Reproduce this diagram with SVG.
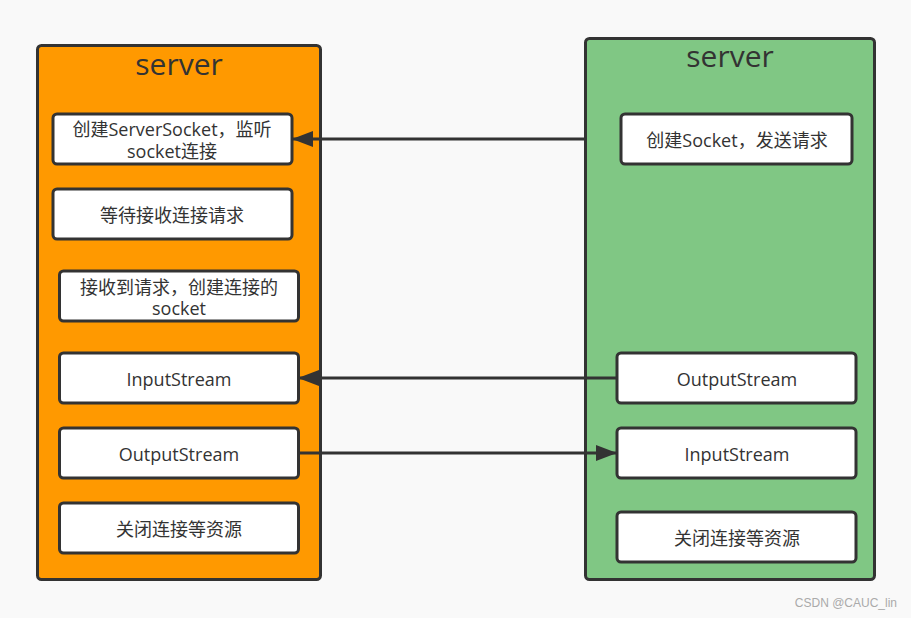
<svg xmlns="http://www.w3.org/2000/svg" width="911" height="618" viewBox="0 0 911 618">
<defs>
<style>
.t{font-family:"Open Sans","Noto Sans CJK SC",sans-serif;font-size:18px;fill:#333;text-anchor:middle}
.h{font-family:"Open Sans","Noto Sans CJK SC",sans-serif;font-size:30px;fill:#333;text-anchor:middle}
.box{fill:#fff;stroke:#333;stroke-width:3}
.c{fill:none;stroke:#333;stroke-width:3}
</style>
<marker id="ah" viewBox="0 0 21 16" refX="21" refY="8" markerWidth="21" markerHeight="16" markerUnits="userSpaceOnUse" orient="auto">
<path d="M0,0 L21,8 L0,16 Z" fill="#333"/>
</marker>
</defs>
<rect width="911" height="618" fill="#f9f9f9"/>
<g id="client-left">
<rect x="37.5" y="45.5" width="283" height="534" rx="4" fill="#ff9900" stroke="#333" stroke-width="3"/>
<text class="h" x="179" y="75">server</text>
</g>
<g id="client-right">
<rect x="585.5" y="38.5" width="289" height="541" rx="4" fill="#80c784" stroke="#333" stroke-width="3"/>
<text class="h" x="730" y="67">server</text>
</g>
<g id="l1"><rect class="box" x="53" y="114" width="239" height="50" rx="4"/><text class="t" x="172" y="136">创建ServerSocket，监听<tspan x="172" dy="22">socket连接</tspan></text></g>
<g id="l2"><rect class="box" x="53" y="189" width="239" height="50" rx="4"/><text class="t" x="172" y="222">等待接收连接请求</text></g>
<g id="l3"><rect class="box" x="59.5" y="271" width="239" height="50" rx="4"/><text class="t" x="179" y="294">接收到请求，创建连接的<tspan x="179" dy="21">socket</tspan></text></g>
<g id="l4"><rect class="box" x="59.5" y="353" width="239" height="50" rx="4"/><text class="t" x="179" y="386">InputStream</text></g>
<g id="l5"><rect class="box" x="59.5" y="428" width="239" height="50" rx="4"/><text class="t" x="179" y="461">OutputStream</text></g>
<g id="l6"><rect class="box" x="59.5" y="503" width="239" height="50" rx="4"/><text class="t" x="179" y="536">关闭连接等资源</text></g>
<g id="r1"><rect class="box" x="621" y="114" width="231" height="50" rx="4"/><text class="t" x="737" y="147">创建Socket，发送请求</text></g>
<g id="r2"><rect class="box" x="617" y="353" width="239" height="50" rx="4"/><text class="t" x="737" y="386">OutputStream</text></g>
<g id="r3"><rect class="box" x="617" y="428" width="239" height="50" rx="4"/><text class="t" x="737" y="461">InputStream</text></g>
<g id="r4"><rect class="box" x="617" y="512" width="239" height="50" rx="4"/><text class="t" x="737" y="545">关闭连接等资源</text></g>
<g id="connectors">
<line class="c" x1="585" y1="139" x2="292" y2="139" marker-end="url(#ah)"/>
<line class="c" x1="617" y1="378" x2="298" y2="378" marker-end="url(#ah)"/>
<line class="c" x1="299" y1="453" x2="617" y2="453" marker-end="url(#ah)"/>
</g>
<text x="897" y="607" font-family="Liberation Sans, sans-serif" font-size="12" fill="#aaa" text-anchor="end">CSDN @CAUC_lin</text>
</svg>
